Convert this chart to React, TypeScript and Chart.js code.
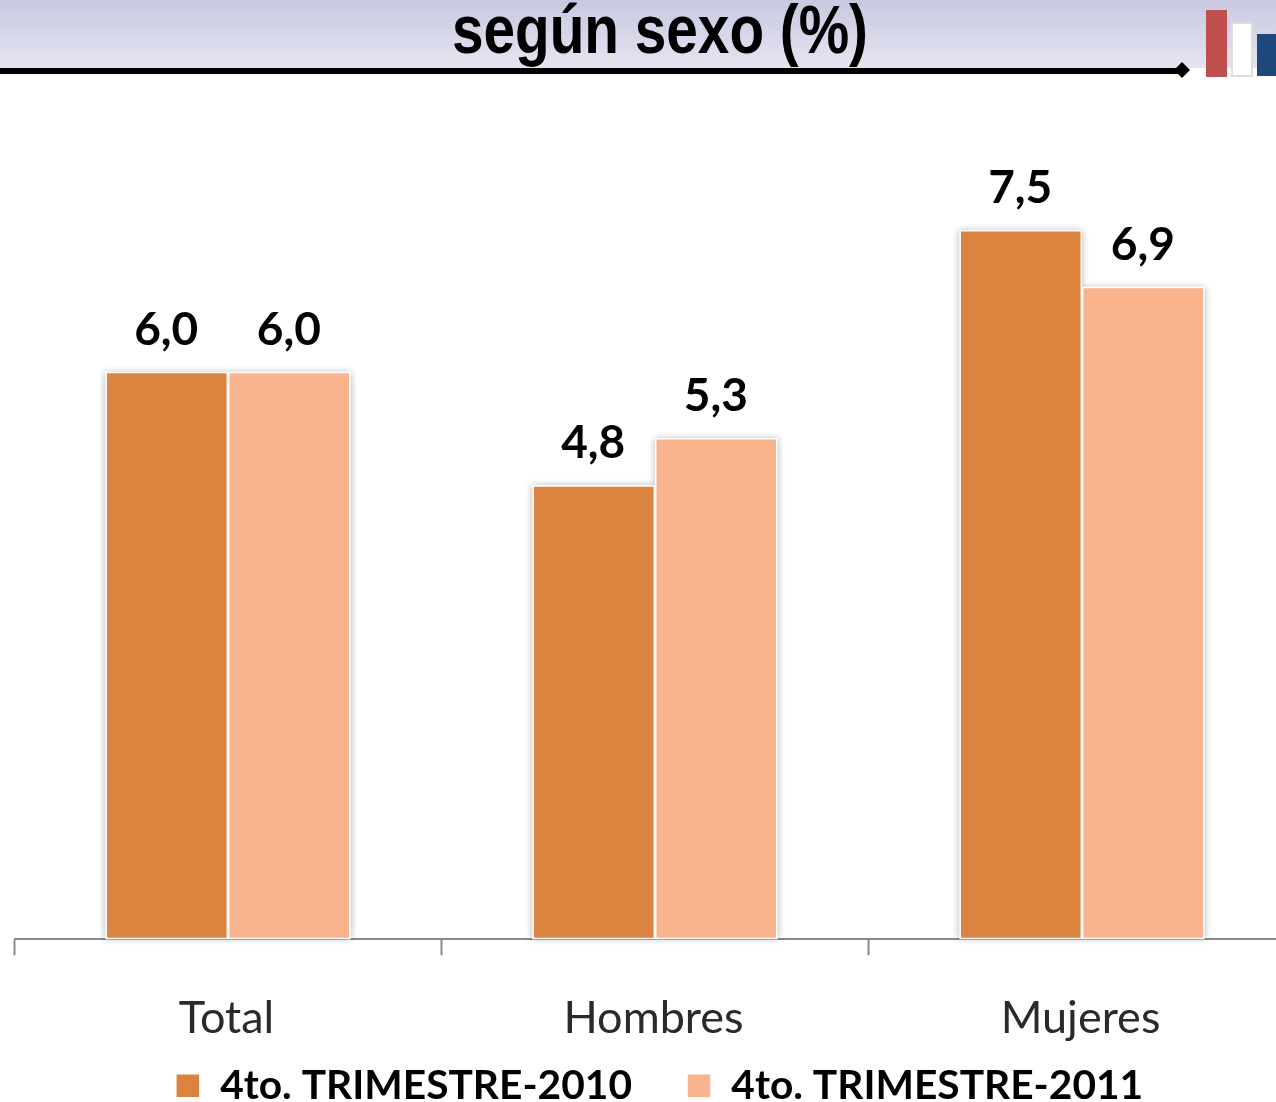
import React, { useEffect, useRef } from "react";
import { Chart, registerables } from "chart.js";

Chart.register(...registerables);

const categories = ["Total", "Hombres", "Mujeres"];
const series2010 = [6.0, 4.8, 7.5];
const series2011 = [6.0, 5.3, 6.9];
const seriesNames = ["4to. TRIMESTRE-2010", "4to. TRIMESTRE-2011"];
const titleText = "según sexo (%)";
const COLOR_2010 = "#DC843F";
const COLOR_2011 = "#F9B48E";

const headerPlugin = {
  id: "header",
  afterLayout(chart: any) {
    // the legend sits close under the axis: let the tick labels keep their full height
    chart.scales.x.bottom = chart.height;
    // the legend is centred a little to the right of the plot
    chart.legend.left += 4.5;
    chart.legend.right += 4.5;
  },
  beforeDraw(chart: any) {
    const ctx = chart.ctx;
    ctx.save();
    const g = ctx.createLinearGradient(0, 0, 0, 68);
    g.addColorStop(0, "#C8C8E1");
    g.addColorStop(1, "#E5E5F1");
    ctx.fillStyle = g;
    ctx.fillRect(0, 0, 1276, 68);
    ctx.fillStyle = "#000";
    ctx.fillRect(0, 68, 1178, 6);
    ctx.beginPath();
    ctx.moveTo(1182, 62);
    ctx.lineTo(1190, 70);
    ctx.lineTo(1182, 78);
    ctx.lineTo(1174, 70);
    ctx.closePath();
    ctx.fill();
    ctx.fillStyle = "#C0504D";
    ctx.fillRect(1206, 10, 21, 67);
    ctx.fillStyle = "#DDDDDD";
    ctx.fillRect(1231, 22, 22, 55);
    ctx.fillStyle = "#FFFFFF";
    ctx.fillRect(1233, 24, 18, 51);
    ctx.fillStyle = "#1F497D";
    ctx.fillRect(1257, 34, 19, 42);
    ctx.fillStyle = "#000";
    ctx.font = "bold 69px 'Liberation Sans'";
    ctx.textAlign = "center";
    ctx.textBaseline = "alphabetic";
    const w = ctx.measureText(titleText).width;
    ctx.translate(660, 53);
    ctx.scale(416 / w, 1);
    ctx.fillText(titleText, 0, 0);
    ctx.restore();
  },
};

const shadowPlugin = {
  id: "barShadow",
  beforeDatasetsDraw(chart: any) {
    const ctx = chart.ctx;
    ctx.save();
    ctx.shadowColor = "rgba(0,0,0,0.3)";
    ctx.shadowBlur = 7;
    ctx.fillStyle = "#FFFFFF";
    chart.data.datasets.forEach((_: any, i: number) => {
      chart.getDatasetMeta(i).data.forEach((bar: any) => {
        ctx.fillRect(bar.x - bar.width / 2, bar.y, bar.width, bar.base - bar.y);
      });
    });
    ctx.restore();
  },
};

const valueLabelPlugin = {
  id: "valueLabels",
  afterDatasetsDraw(chart: any) {
    const ctx = chart.ctx;
    ctx.save();
    ctx.fillStyle = "#000";
    ctx.font = "bold 46px Lato";
    ctx.textAlign = "center";
    ctx.textBaseline = "alphabetic";
    chart.data.datasets.forEach((ds: any, i: number) => {
      chart.getDatasetMeta(i).data.forEach((bar: any, j: number) => {
        const label = ds.data[j].toFixed(1).replace(".", ",");
        ctx.fillText(label, bar.x - 0.5, bar.y - 27);
      });
    });
    ctx.restore();
  },
};

export default function App() {
  const ref = useRef<HTMLCanvasElement | null>(null);
  useEffect(() => {
    const chart = new Chart(ref.current as HTMLCanvasElement, {
      type: "bar",
      data: {
        labels: categories,
        datasets: [
          {
            label: seriesNames[0],
            data: series2010,
            backgroundColor: COLOR_2010,
            borderColor: "#FFFFFF",
            borderWidth: 1.5,
            borderSkipped: false,
          },
          {
            label: seriesNames[1],
            data: series2011,
            backgroundColor: COLOR_2011,
            borderColor: "#FFFFFF",
            borderWidth: 1.5,
            borderSkipped: false,
          },
        ],
      },
      options: {
        responsive: false,
        animation: false,
        layout: { padding: { left: 14.5, right: 32.5, top: 88, bottom: 0 } },
        datasets: { bar: { barPercentage: 1, categoryPercentage: 0.574 } },
        scales: {
          y: { display: false, min: 0, max: 9 },
          x: {
            afterFit: (scale: any) => {
              scale.height = 71;
            },
            border: { display: true, color: "#8A8A8A", width: 2 },
            grid: {
              display: true,
              offset: true,
              drawOnChartArea: false,
              drawTicks: true,
              tickLength: 16,
              tickWidth: 2,
              tickColor: "#8A8A8A",
            },
            ticks: {
              color: "#2A2A2A",
              font: { family: "Lato", size: 45 },
              padding: 36,
              labelOffset: -1.5,
              maxRotation: 0,
            },
          },
        },
        plugins: {
          title: { display: false },
          tooltip: { enabled: false },
          legend: {
            display: true,
            position: "bottom",
            labels: {
              color: "#000000",
              font: { family: "Lato", size: 40.7, weight: "bold" },
              boxWidth: 24,
              boxHeight: 24,
              padding: 55,
            },
          },
        },
      },
      plugins: [headerPlugin, shadowPlugin, valueLabelPlugin],
    } as any);
    return () => chart.destroy();
  }, []);
  return (
    <div style={{ position: "absolute", left: 0, top: 0, width: 1276, height: 1102, overflow: "hidden", background: "#fff" }}>
      <canvas ref={ref} width={1328} height={1116} style={{ display: "block" }} />
    </div>
  );
}
